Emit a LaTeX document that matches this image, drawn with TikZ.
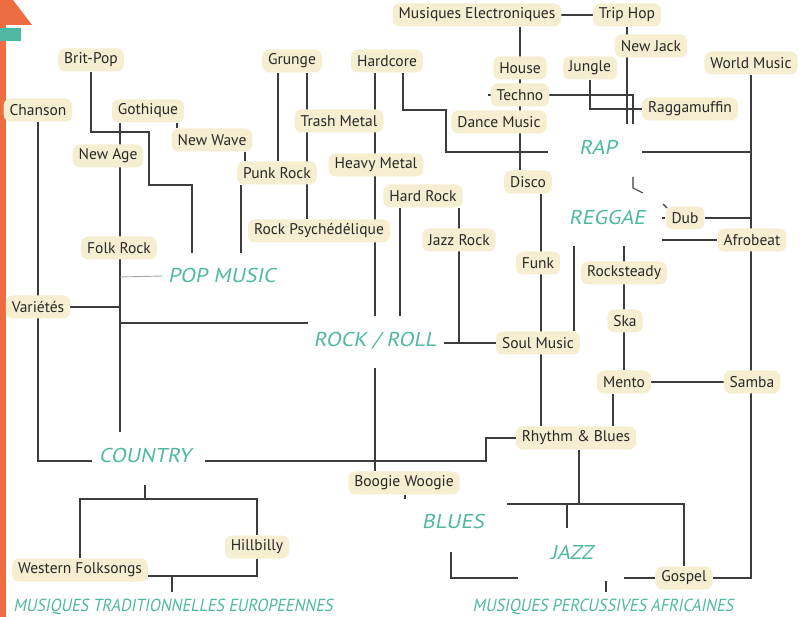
\documentclass[tikz,border=0pt]{standalone}
\usepackage{fontspec}
\usetikzlibrary{backgrounds}
\newfontfamily\labelfont{PT Sans}
\newfontfamily\genrefont[FakeSlant=0.2,FakeStretch=1.1]{PT Sans}
\newfontfamily\rootfont[FakeSlant=0.2,FakeStretch=0.92]{PT Sans}
\definecolor{bubble}{RGB}{245,238,208}
\definecolor{ink}{RGB}{40,40,40}
\definecolor{linegray}{RGB}{60,60,60}
\definecolor{genreteal}{RGB}{78,184,160}
\definecolor{barorange}{RGB}{238,108,66}
\tikzset{
    tag/.style={fill=bubble, text=ink, rounded corners=7pt, inner xsep=6pt, inner ysep=0pt, minimum height=23pt, font=\labelfont\fontsize{15.5}{17}\selectfont},
    genre/.style={text=genreteal, inner sep=0pt, font=\genrefont\fontsize{20}{22}\selectfont},
    root/.style={genre, font=\rootfont\fontsize{17.5}{18}\selectfont},
    link/.style={draw=linegray, line width=1.1pt},
    faint/.style={draw=linegray!45, line width=0.9pt}
}

\begin{document}
\begin{tikzpicture}[x=1pt, y=-1pt]
    \useasboundingbox (0,0) rectangle (801,617);
    \fill[barorange] (0,0) -- (13,0) -- (32,25) -- (0,25) -- cycle;
    \fill[barorange] (0,25) rectangle (6,617);
    \fill[genreteal] (0,28) rectangle (21,41);

    \node[tag] (melec) at (477,15) {Musiques Electroniques};
    \node[tag] (triphop) at (627,15) {Trip Hop};
    \node[tag] (newjack) at (651,46) {New Jack};
    \node[tag] (britpop) at (91,60) {Brit-Pop};
    \node[tag] (grunge) at (292,61) {Grunge};
    \node[tag] (hardcore) at (387,61) {Hardcore};
    \node[tag] (house) at (520,68) {House};
    \node[tag] (jungle) at (590,68) {Jungle};
    \node[tag] (worldmusic) at (751,63) {World Music};
    \node[tag] (techno) at (520,95) {Techno};
    \node[tag] (chanson) at (38,110) {Chanson};
    \node[tag] (gothique) at (148,111) {Gothique};
    \node[tag] (ragga) at (690,109) {Raggamuffin};
    \node[tag] (trash) at (339,121) {Trash Metal};
    \node[tag] (dance) at (499,122) {Dance Music};
    \node[tag] (newwave) at (212,140) {New Wave};
    \node[tag] (newage) at (108,156) {New Age};
    \node[tag] (heavy) at (376,165) {Heavy Metal};
    \node[tag] (punk) at (277,173) {Punk Rock};
    \node[tag] (disco) at (528,182) {Disco};
    \node[tag] (hardrock) at (423,196) {Hard Rock};
    \node[tag] (dub) at (685,218) {Dub};
    \node[tag] (psych) at (319,231) {Rock Psychédélique};
    \node[tag] (jazzrock) at (459,240) {Jazz Rock};
    \node[tag] (afrobeat) at (752,240) {Afrobeat};
    \node[tag] (folkrock) at (119,248) {Folk Rock};
    \node[tag] (funk) at (538,263) {Funk};
    \node[tag] (rocksteady) at (624,273) {Rocksteady};
    \node[tag] (varietes) at (38,307) {Variétés};
    \node[tag] (ska) at (625,321) {Ska};
    \node[tag] (soul) at (538,343) {Soul Music};
    \node[tag] (mento) at (624,382) {Mento};
    \node[tag] (samba) at (752,382) {Samba};
    \node[tag] (rnb) at (576,438) {Rhythm \& Blues};
    \node[tag] (boogie) at (404,483) {Boogie Woogie};
    \node[tag] (hillbilly) at (257,547) {Hillbilly};
    \node[tag] (western) at (80,570) {Western Folksongs};
    \node[tag] (gospel) at (684,578) {Gospel};

    \node[genre] (rap) at (598,147) {RAP};
    \node[genre] (reggae) at (607,218) {REGGAE};
    \node[genre] (pop) at (222,276) {POP MUSIC};
    \node[genre] (rocknroll) at (375,341) {ROCK / ROLL};
    \node[genre] (country) at (145,456) {COUNTRY};
    \node[genre] (blues) at (453,522) {BLUES};
    \node[genre] (jazz) at (572,552) {JAZZ};
    \node[root] (europe) at (173,607) {MUSIQUES TRADITIONNELLES EUROPEENNES};
    \node[root] (africa) at (603,607) {MUSIQUES PERCUSSIVES AFRICAINES};

    \begin{scope}[on background layer]
        % pop, rock and country side
        \draw[link] (britpop) |- (149,132) |- (192,185) -- (192,253);
        \draw[link] (gothique.south -| 120,0) -- (120,432);
        \draw[faint] (120,277) -- ([xshift=-5pt]pop.west);
        \draw[link] (varietes) -- (120,307);
        \draw[link] (120,323) -- (308,323);
        \draw[link] (gothique.south -| 177,0) -- (newwave.north -| 177,0);
        \draw[link] (newwave.south -| 245,0) -- (punk.north -| 245,0);
        \draw[link] (punk.south -| 241,0) -- (241,253);
        \draw[link] (chanson) |- (92,461);
        \draw[link] (205,461) -| (486,438) -- (rnb.west);
        \draw[link] (145,485) -- (145,499);
        \draw[link] (western) |- (257,499) -- (hillbilly);
        \draw[link] (hillbilly) |- ([yshift=-6pt]western.east);
        \draw[link] (172,576) -- (172,592);
        \draw[link] (grunge.south -| 278,0) -- (punk.north -| 278,0);
        \draw[link] (grunge.south -| 307,0) -- (psych.north -| 307,0);
        \draw[link] (hardcore.south -| 375,0) -- (375,316);
        \draw[link] (hardcore.south -| 403,0) |- (446,110) |- (548,152);
        \draw[link] (hardrock.south -| 400,0) -- (400,316);
        \draw[link] (hardrock.south -| jazzrock) -- (jazzrock |- soul);
        \draw[link] (444,343) -- (soul.west);
        \draw[link] (375,368) -- (boogie.north -| 375,0);
        \draw[link] (boogie.south -| 405,0) -- (405,499);
        % electro, rap and reggae side
        \draw[link] (melec) -- (triphop);
        \draw[link] (melec.south -| house) -- (disco.north -| house);
        \draw[link] (triphop) -- (triphop |- 0,124);
        \draw[link] (techno.west) -- ++(-3,0);
        \draw[link] (techno) -| (633,124);
        \draw[link] (jungle) |- (ragga);
        \draw[link] (disco.south -| 541,0) -- (rnb.north -| 541,0);
        \draw[link] (642,152) -| (worldmusic);
        \draw[link] (worldmusic) |- (gospel);
        \draw[link] (dub) -- (dub -| worldmusic);
        \draw[link] (662,240) -- (afrobeat.west);
        \draw[link] (633,177) -- (633,188) -- (643,193);
        \draw[link] (663,204) -- (667,208);
        \draw[link] (dub.west) -- ++(-3,0);
        \draw[link] (574,246) -- (soul.north -| 574,0);
        \draw[link] (624,246) -- (mento);
        \draw[link] (mento) -- (samba);
        \draw[link] (mento.south -| 613,0) -- (rnb.north -| 613,0);
        \draw[link] (rnb.south -| 579,0) -- (579,504);
        \draw[link] (507,504) -| (gospel);
        \draw[link] (567,504) -- (567,528);
        \draw[link] (451,552) |- (518,578);
        \draw[link] (gospel) -- (624,578);
        \draw[link] (606,581) -- (606,592);
    \end{scope}
\end{tikzpicture}
\end{document}
